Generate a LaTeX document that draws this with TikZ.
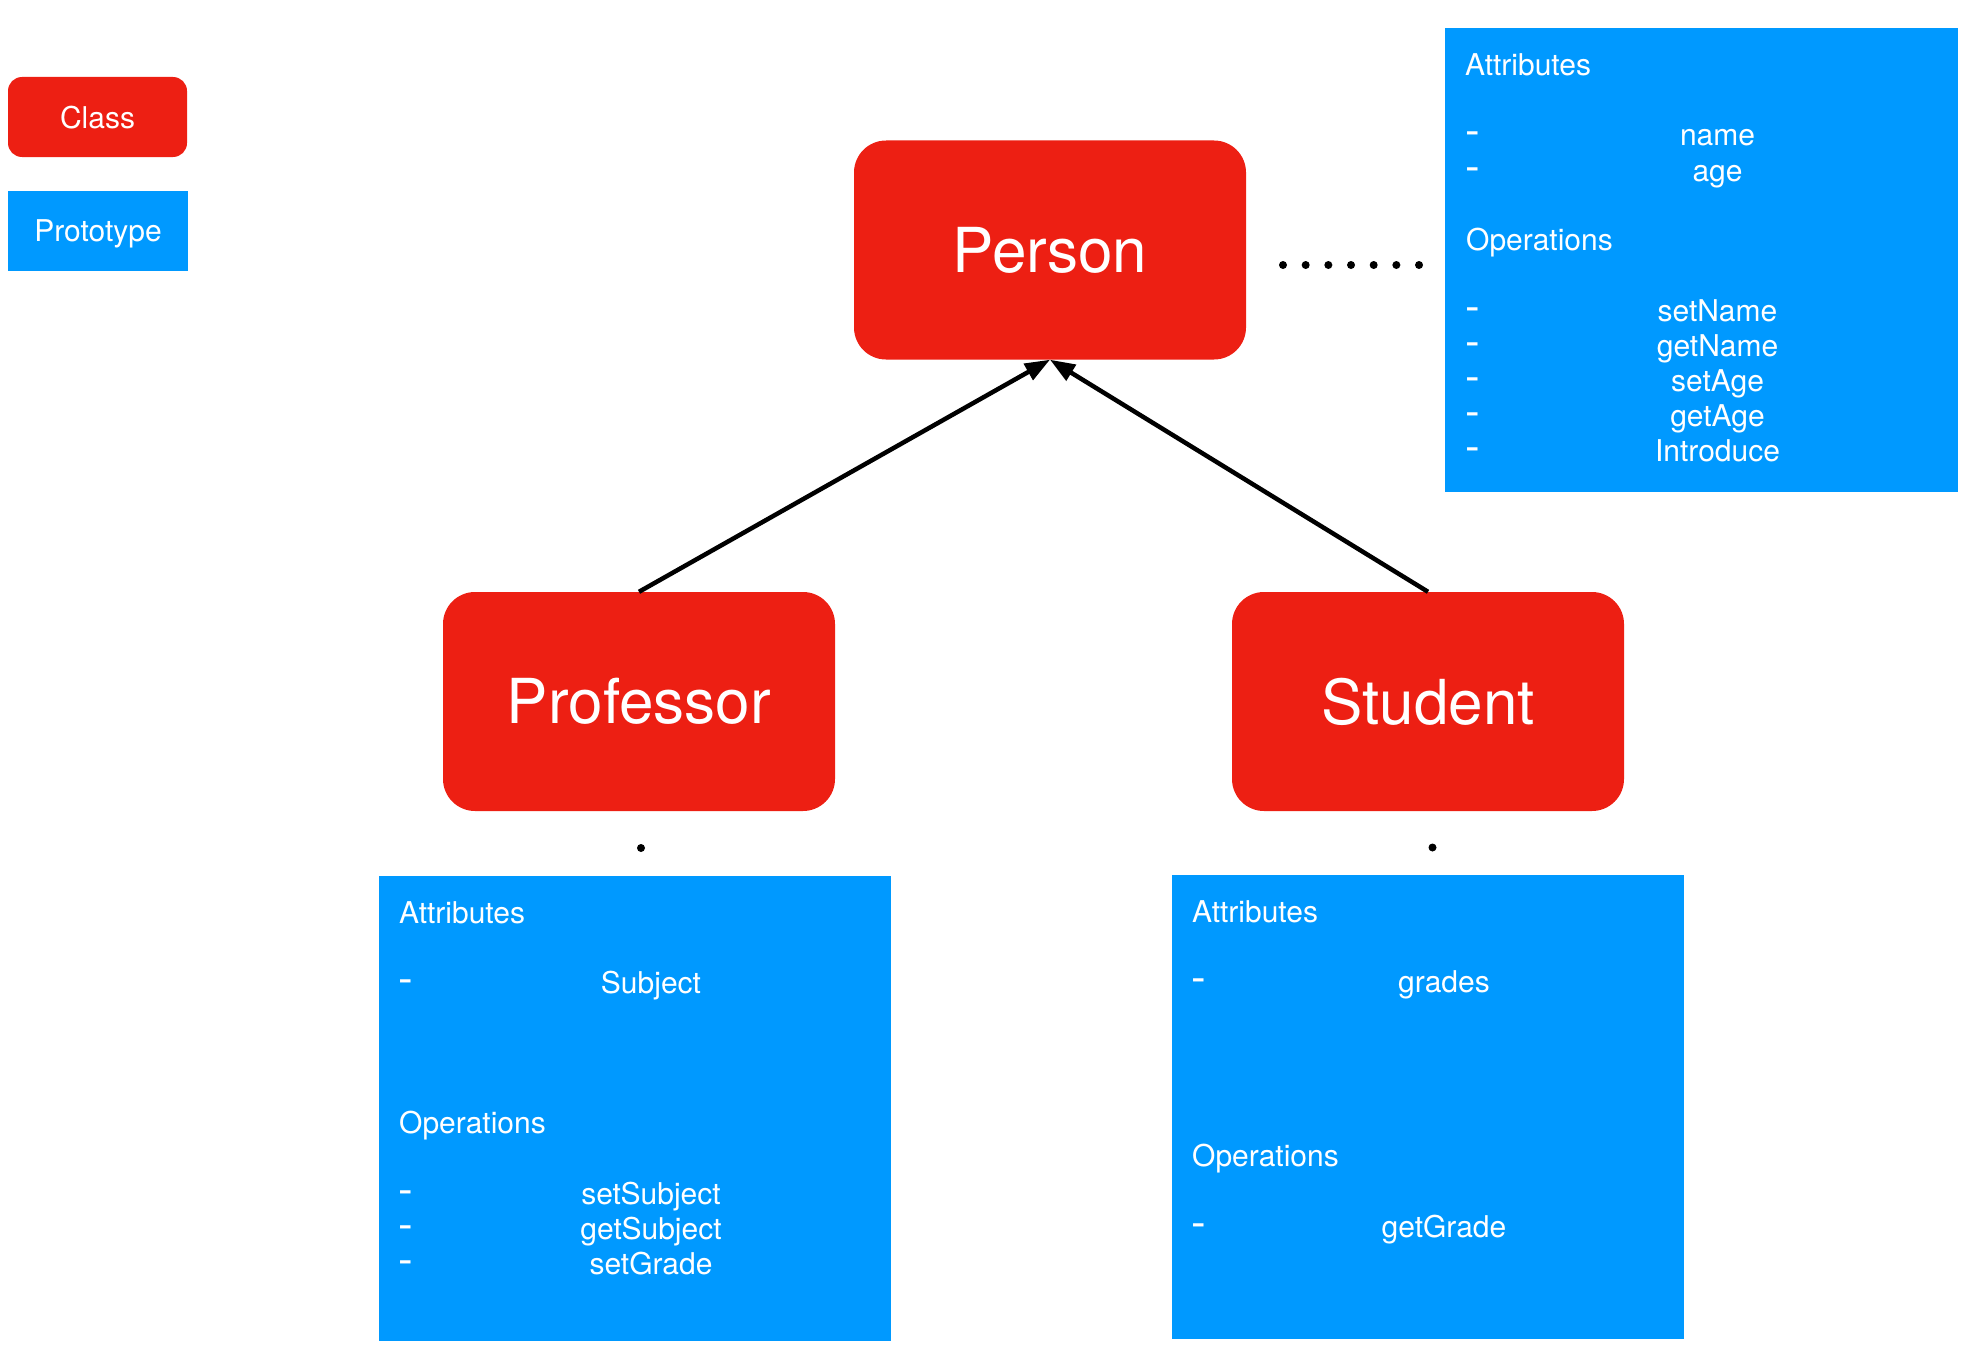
\documentclass[tikz,border=0pt]{standalone}
\usepackage{fontspec}
\setmainfont{TeX Gyre Heros}
\usetikzlibrary{arrows.meta}
\definecolor{classred}{RGB}{237,31,19}
\definecolor{protoblue}{RGB}{0,153,255}

\begin{document}
\begin{tikzpicture}[x=1pt,y=-1pt,
      classbox/.style={rectangle, rounded corners=32pt, fill=classred, text=white,
        minimum width=392pt, minimum height=219pt, font=\fontsize{62}{62}\selectfont},
      protobox/.style={rectangle, fill=protoblue, inner sep=0pt, minimum width=512pt, minimum height=465pt},
      legendclass/.style={rectangle, rounded corners=14pt, fill=classred, text=white, text depth=0pt,
        minimum width=179pt, minimum height=80pt, font=\fontsize{30}{30}\selectfont},
      legendproto/.style={rectangle, fill=protoblue, text=white, text depth=0pt,
        minimum width=180pt, minimum height=80pt, font=\fontsize{30}{30}\selectfont},
      heading/.style={anchor=base west, inner sep=0pt, text=white, font=\fontsize{30}{30}\selectfont},
      member/.style={anchor=base, inner sep=0pt, text=white, font=\fontsize{30}{30}\selectfont},
      bulletmark/.style={anchor=base west, inner sep=0pt, text=white, font=\fontsize{44}{44}\selectfont},
      inherit/.style={-{Triangle[length=25pt,width=18pt]}, line width=4.5pt},
      dotrow/.style={line width=8pt, line cap=round, dash pattern=on 0pt off 22.67pt}]

    \useasboundingbox (0,0) rectangle (1970,1362);

    \node[legendclass] (lclass) at (97.5,117) {Class};
    \node[legendproto] (lproto) at (98,231) {Prototype};

    \node[classbox] (person)  at (1050,250) {Person};
    \node[classbox] (prof)    at (639,701.5) {Professor};
    \node[classbox] (student) at (1428,701.5) {Student};

    \node[protobox, minimum width=513pt, minimum height=464pt] (personproto) at (1701.5,260) {};
    \node[protobox] (profproto)    at (635,1108)  {};
    \node[protobox, minimum height=464pt] (studentproto) at (1428,1107) {};

    \node[heading] (pattr) at (1465,76)  {Attributes};
    \node[heading] (poper) at (1466,250) {Operations};
    \foreach \name/\y in {name/146, age/181, setName/321, getName/356, setAge/391, getAge/426, Introduce/461} {
      \node[bulletmark] (pd\y) at (1465,\y) {-};
      \node[member]     (pm\y) at (1717.5,\y) {\name};
    }

    \node[heading] (rattr) at (399,923)  {Attributes};
    \node[heading] (roper) at (399,1133) {Operations};
    \foreach \name/\y in {Subject/993, setSubject/1204, getSubject/1239, setGrade/1274} {
      \node[bulletmark] (rd\y) at (398.5,\y) {-};
      \node[member]     (rm\y) at (651,\y)   {\name};
    }

    \node[heading] (sattr) at (1192,922)  {Attributes};
    \node[heading] (soper) at (1192,1166) {Operations};
    \foreach \name/\y in {grades/992, getGrade/1237} {
      \node[bulletmark] (sd\y) at (1191.5,\y) {-};
      \node[member]     (sm\y) at (1444,\y)   {\name};
    }

    \draw[inherit] (prof.north)    -- (person.south);
    \draw[inherit] (student.north) -- (person.south);

    \coordinate (dotsfrom) at (1283,265);
    \coordinate (dotsto)   at (1420,265);
    \draw[dotrow] (dotsfrom) -- (dotsto);

    \coordinate (profdot)    at (641,848);
    \coordinate (studentdot) at (1432.5,847.5);
    \fill (profdot) circle (4pt);
    \fill (studentdot) circle (4pt);

  \end{tikzpicture}
\end{document}
